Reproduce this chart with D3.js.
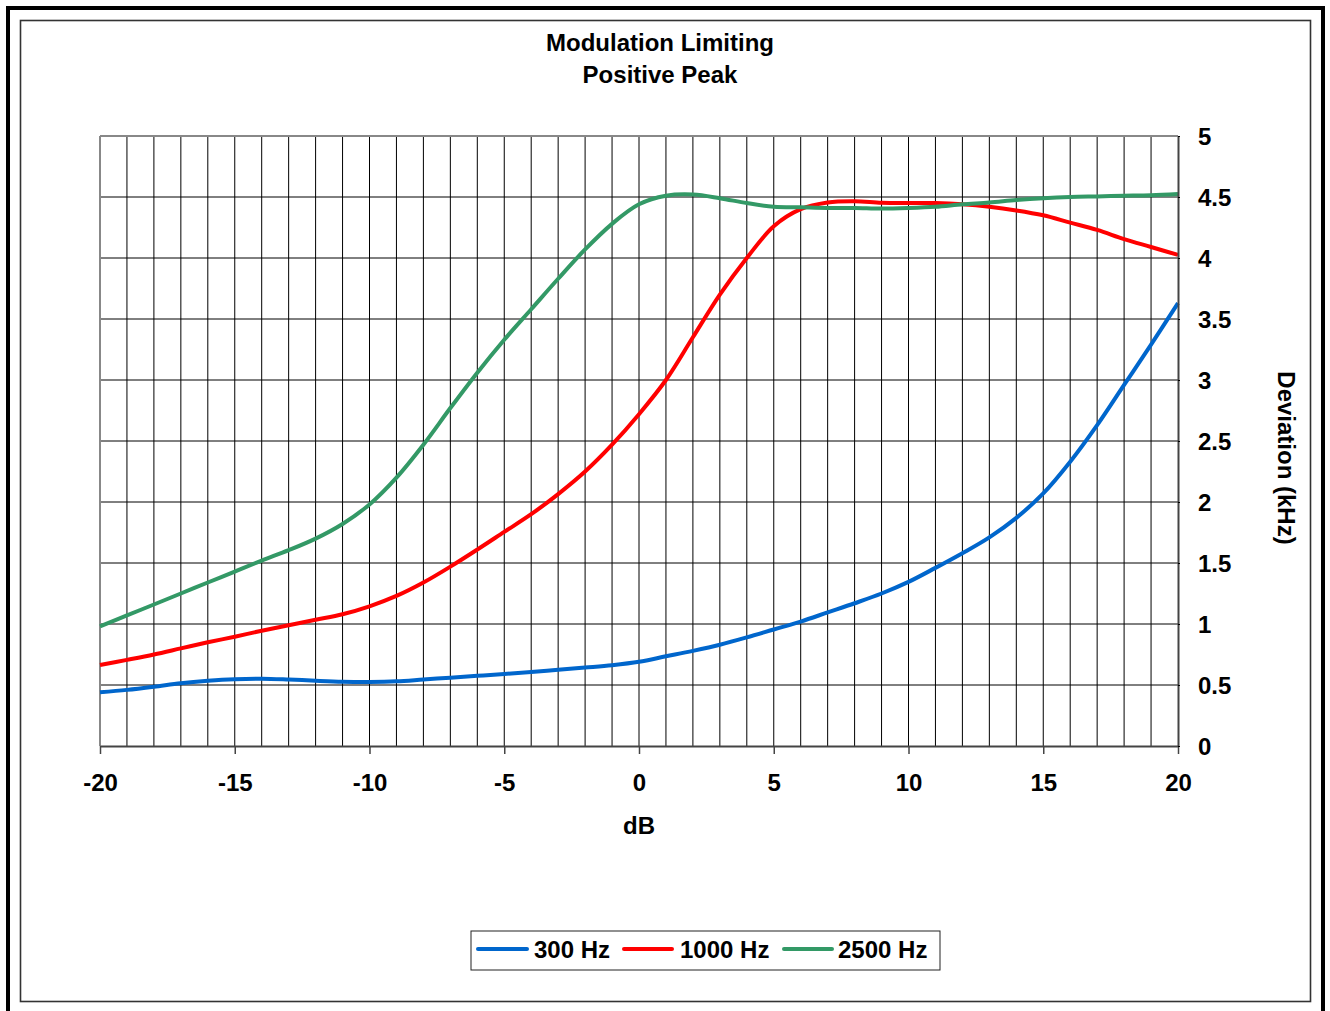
<!DOCTYPE html>
<html>
<head>
<meta charset="utf-8">
<script src="https://cdn.jsdelivr.net/npm/d3@7"></script>
<style>
  html, body { margin: 0; padding: 0; background: #fff; }
  svg { display: block; }
  text { font-family: "Liberation Sans", Arial, sans-serif; font-weight: bold; fill: #000; }
</style>
</head>
<body>
<svg id="chart" width="1330" height="1011"></svg>
<script>
// ---- data ----
const dB = [-20,-19,-18,-17,-16,-15,-14,-13,-12,-11,-10,-9,-8,-7,-6,-5,-4,-3,-2,-1,0,1,2,3,4,5,6,7,8,9,10,11,12,13,14,15,16,17,18,19,20];
const hz300  = [0.44,0.46,0.486,0.515,0.535,0.548,0.552,0.545,0.535,0.527,0.525,0.53,0.545,0.56,0.575,0.59,0.607,0.625,0.643,0.662,0.69,0.735,0.78,0.83,0.89,0.955,1.02,1.095,1.17,1.25,1.345,1.46,1.58,1.71,1.87,2.07,2.33,2.63,2.96,3.29,3.63];
const hz1000 = [0.664,0.706,0.75,0.80,0.85,0.896,0.945,0.99,1.035,1.08,1.145,1.23,1.34,1.47,1.61,1.755,1.90,2.065,2.25,2.47,2.72,3.0,3.35,3.70,4.0,4.26,4.40,4.455,4.465,4.452,4.45,4.45,4.44,4.42,4.39,4.35,4.29,4.23,4.155,4.09,4.025];
const hz2500 = [0.98,1.07,1.16,1.25,1.34,1.43,1.52,1.605,1.70,1.82,1.98,2.20,2.47,2.77,3.06,3.33,3.58,3.83,4.07,4.28,4.44,4.51,4.52,4.49,4.45,4.42,4.415,4.41,4.41,4.405,4.41,4.42,4.44,4.455,4.475,4.49,4.50,4.505,4.51,4.515,4.525];
const seriesNames = ["300 Hz","1000 Hz","2500 Hz"];
const seriesColors = ["#0066CC","#FF0000","#339966"];
const xTicks = [-20,-15,-10,-5,0,5,10,15,20];
const yTicks = [0,0.5,1,1.5,2,2.5,3,3.5,4,4.5,5];
const titleLines = ["Modulation Limiting","Positive Peak"];
const xTitle = "dB";
const yTitle = "Deviation (kHz)";

const svg = d3.select("#chart");

// frames
svg.append("rect").attr("x",8).attr("y",8).attr("width",1315).attr("height",1012)
  .attr("fill","none").attr("stroke","#000").attr("stroke-width",4);
svg.append("rect").attr("x",20.5).attr("y",20.5).attr("width",1290).attr("height",981)
  .attr("fill","none").attr("stroke","#333").attr("stroke-width",1.6);

const x = d3.scaleLinear().domain([-20,20]).range([100,1178]);
const y = d3.scaleLinear().domain([0,5]).range([746,136]);

// gridlines
const g = svg.append("g");
g.selectAll("line.vx").data(d3.range(-19,20)).join("line")
  .attr("x1",d=>x(d)).attr("x2",d=>x(d)).attr("y1",y(5)).attr("y2",y(0))
  .attr("stroke","#000").attr("stroke-width",1);
g.selectAll("line.hy").data(yTicks.filter(v=>v>0 && v<5)).join("line")
  .attr("x1",x(-20)).attr("x2",x(20)).attr("y1",d=>y(d)).attr("y2",d=>y(d))
  .attr("stroke","#000").attr("stroke-width",1);

// plot border top/left gray
svg.append("line").attr("x1",x(-20)).attr("x2",x(20)).attr("y1",y(5)).attr("y2",y(5))
  .attr("stroke","#888").attr("stroke-width",2);
svg.append("line").attr("x1",x(-20)).attr("x2",x(-20)).attr("y1",y(5)).attr("y2",y(0))
  .attr("stroke","#888").attr("stroke-width",2);

// series
const seriesVals = [hz300, hz1000, hz2500];
const line = d3.line().x(d=>x(d[0])).y(d=>y(d[1])).curve(d3.curveCatmullRom.alpha(0.5));
seriesVals.forEach((vals,i)=>{
  svg.append("path").datum(dB.map((d,j)=>[d,vals[j]]))
    .attr("d",line).attr("fill","none").attr("stroke",seriesColors[i])
    .attr("stroke-width",4).attr("stroke-linejoin","round");
});

// x axis
const xAxis = svg.append("g").attr("transform",`translate(0,${y(0)})`)
  .call(d3.axisBottom(x).tickValues(xTicks).tickSize(8).tickSizeOuter(0).tickFormat(d=>String(d)));
xAxis.select(".domain").attr("stroke","#444").attr("stroke-width",2);
xAxis.selectAll(".tick line").attr("stroke","#444").attr("stroke-width",1.5);
xAxis.selectAll(".tick text").attr("font-size",24).attr("dy",0).attr("y",45)
  .style("font-family",'"Liberation Sans", Arial, sans-serif').style("font-weight","bold").attr("fill","#000");

// y axis on right
const yAxis = svg.append("g").attr("transform",`translate(${x(20)},0)`)
  .call(d3.axisRight(y).tickValues(yTicks).tickSize(2).tickSizeOuter(0).tickFormat(d=>String(d)));
yAxis.select(".domain").attr("stroke","#444").attr("stroke-width",2);
yAxis.selectAll(".tick line").attr("stroke","#000");
yAxis.selectAll(".tick text").attr("font-size",24).attr("x",20).attr("dy","0.36em")
  .attr("text-anchor","start")
  .style("font-family",'"Liberation Sans", Arial, sans-serif').style("font-weight","bold").attr("fill","#000");

// titles
svg.append("text").attr("x",660).attr("y",51).attr("text-anchor","middle").attr("font-size",24).text(titleLines[0]);
svg.append("text").attr("x",660).attr("y",83).attr("text-anchor","middle").attr("font-size",24).text(titleLines[1]);
svg.append("text").attr("x",639).attr("y",834).attr("text-anchor","middle").attr("font-size",24).text(xTitle);
svg.append("text").attr("transform","translate(1278,458) rotate(90)").attr("text-anchor","middle")
  .attr("font-size",24).text(yTitle);

// legend
const lg = svg.append("g");
lg.append("rect").attr("x",471).attr("y",931).attr("width",469).attr("height",39)
  .attr("fill","#fff").attr("stroke","#222").attr("stroke-width",1);
const legX = [[478,527,534],[624,672,680],[784,832,838]];
seriesNames.forEach((n,i)=>{
  lg.append("line").attr("x1",legX[i][0]).attr("x2",legX[i][1]).attr("y1",949).attr("y2",949)
    .attr("stroke",seriesColors[i]).attr("stroke-width",4).attr("stroke-linecap","round");
  lg.append("text").attr("x",legX[i][2]).attr("y",958).attr("font-size",24).text(n);
});
</script>
</body>
</html>
